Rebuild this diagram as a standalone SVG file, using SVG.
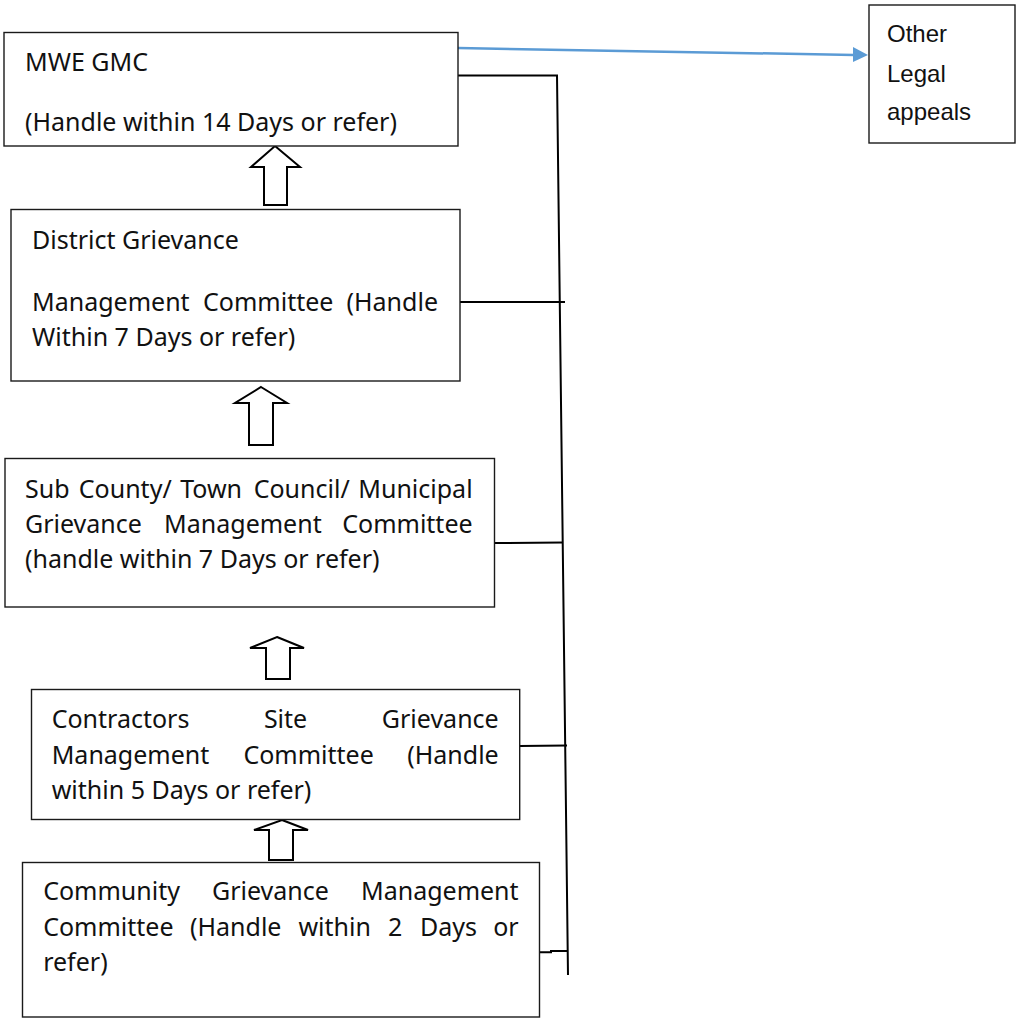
<svg xmlns="http://www.w3.org/2000/svg" width="1016" height="1020" viewBox="0 0 1016 1020">
<defs>
<style>
.box{fill:#fff;stroke:#1a1a1a;stroke-width:1.4}
.t{font-family:"Noto Sans","Open Sans",sans-serif;font-size:25px;fill:#111}
.ta{font-family:"Liberation Sans",Arial,sans-serif;font-size:24px;fill:#111}
.conn{fill:none;stroke:#000;stroke-width:2}
.up{fill:#fff;stroke:#000;stroke-width:2;stroke-linejoin:miter}
</style>
<marker id="blueHead" markerWidth="10" markerHeight="10" refX="9" refY="5" orient="auto" markerUnits="userSpaceOnUse" viewBox="0 0 10 10">
<path d="M0,0 L10,5 L0,10 z" fill="#5B9BD5"/>
</marker>
</defs>
<rect width="1016" height="1020" fill="#fff"/>

<g id="connectors">
<line x1="458" y1="48" x2="854" y2="55" stroke="#5B9BD5" stroke-width="2.5"/>
<path d="M853,47 L868,55 L853,62 z" fill="#5B9BD5"/>
<polyline class="conn" points="458,75.5 557,75.5 568,975"/>
<line class="conn" x1="460" y1="302" x2="565" y2="302"/>
<line class="conn" x1="494.5" y1="543" x2="563" y2="542.5"/>
<line class="conn" x1="519.7" y1="746" x2="567" y2="745.5"/>
<polyline class="conn" points="536,952.3 551,952.3 551,951 568,951"/>
<polygon class="up" points="275,146 300,167 287,167 287,205 264,205 264,167 251,167"/>
<polygon class="up" points="261,387 287,403 273,403 273,445 249,445 249,403 235,403"/>
<polygon class="up" points="277,637 304,648 290,648 290,679 266,679 266,648 250,648"/>
<polygon class="up" points="282,820 308,830 293,830 293,860 269,860 269,830 254,830"/>
</g>

<g id="mwe-gmc">
<rect class="box" x="4" y="32.5" width="454" height="113.5"/>
<text class="t" x="25" y="71">MWE GMC</text>
<text class="t" x="25" y="131">(Handle within 14 Days or refer)</text>
</g>

<g id="other-legal">
<rect class="box" x="869" y="5" width="146" height="138"/>
<text class="ta" x="887" y="42">Other</text>
<text class="ta" x="887" y="82">Legal</text>
<text class="ta" x="887" y="120">appeals</text>
</g>

<g id="district">
<rect class="box" x="11" y="209.5" width="449" height="171.5"/>
<text class="t" x="32" y="249">District Grievance</text>
<text class="t" y="311"><tspan x="32">Management</tspan><tspan x="203">Committee</tspan><tspan x="438" text-anchor="end">(Handle</tspan></text>
<text class="t" x="32" y="346">Within 7 Days or refer)</text>
</g>

<g id="subcounty">
<rect class="box" x="5" y="458.5" width="489.5" height="148.5"/>
<text class="t" y="498"><tspan x="25">Sub</tspan><tspan x="78.8">County/</tspan><tspan x="180.2">Town</tspan><tspan x="253.7">Council/</tspan><tspan x="472.6" text-anchor="end">Municipal</tspan></text>
<text class="t" y="533"><tspan x="25">Grievance</tspan><tspan x="164.1">Management</tspan><tspan x="472.6" text-anchor="end">Committee</tspan></text>
<text class="t" x="25" y="568">(handle within 7 Days or refer)</text>
</g>

<g id="contractors">
<rect class="box" x="31.5" y="689.5" width="488.2" height="130"/>
<text class="t" y="728"><tspan x="51.7">Contractors</tspan><tspan x="263.9">Site</tspan><tspan x="498.7" text-anchor="end">Grievance</tspan></text>
<text class="t" y="764"><tspan x="51.7">Management</tspan><tspan x="243.4">Committee</tspan><tspan x="498.7" text-anchor="end">(Handle</tspan></text>
<text class="t" x="51.7" y="799">within 5 Days or refer)</text>
</g>

<g id="community">
<rect class="box" x="22.5" y="862.5" width="517" height="154.5"/>
<text class="t" y="900"><tspan x="43.2">Community</tspan><tspan x="212">Grievance</tspan><tspan x="518.6" text-anchor="end">Management</tspan></text>
<text class="t" y="936"><tspan x="43.2">Committee</tspan><tspan x="190">(Handle</tspan><tspan x="298.4">within</tspan><tspan x="388.1">2</tspan><tspan x="419.9">Days</tspan><tspan x="518.6" text-anchor="end">or</tspan></text>
<text class="t" x="43.2" y="971">refer)</text>
</g>
</svg>
